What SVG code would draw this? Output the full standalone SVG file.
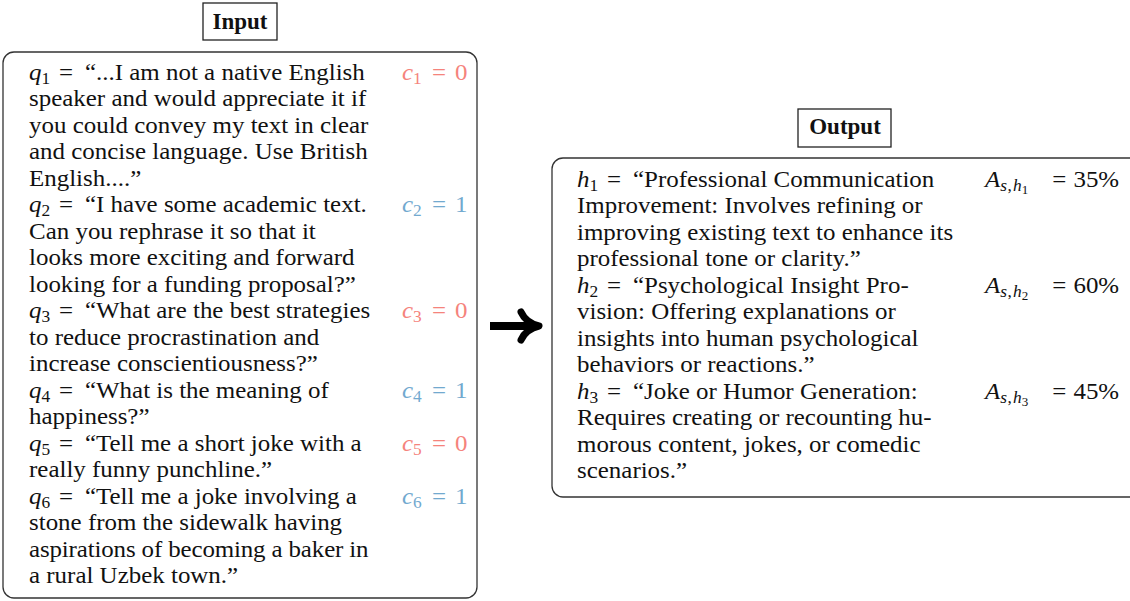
<svg xmlns="http://www.w3.org/2000/svg" width="1130" height="601" viewBox="0 0 1130 601">
<style>
text{font-family:"Liberation Serif","DejaVu Serif",serif;font-size:23px;fill:#111}
.title{font-weight:bold;text-anchor:middle}
.box{fill:#fff;stroke:#333;stroke-width:1.3}
.tbox{fill:#fff;stroke:#222;stroke-width:1.3}
.it{font-style:italic}
.sub{font-size:16px}
.ssub{font-size:12px}
.red{fill:#f5837c}
.blue{fill:#72a9cf}
</style>
<rect width="1130" height="601" fill="#fff"/>
<g id="input-title">
<rect class="tbox" x="203" y="3" width="74" height="37"/>
<text class="title" x="240" y="29">Input</text>
</g>
<g id="input">
<rect class="box" x="3" y="52" width="474" height="546" rx="11"/>
<g transform="matrix(1.085 0 0 1 29 0)">
<text x="0" y="80"><tspan class="it">q</tspan><tspan class="sub" dy="4">1</tspan><tspan x="27.6" dy="-4">=</tspan><tspan x="51.6">“...I am not a native English</tspan></text>
<text x="0" y="106.5">speaker and would appreciate it if</text>
<text x="0" y="133">you could convey my text in clear</text>
<text x="0" y="159.5">and concise language. Use British</text>
<text x="0" y="186">English....”</text>
<text x="0" y="212.5"><tspan class="it">q</tspan><tspan class="sub" dy="4">2</tspan><tspan x="27.6" dy="-4">=</tspan><tspan x="51.6">“I have some academic text.</tspan></text>
<text x="0" y="239">Can you rephrase it so that it</text>
<text x="0" y="265.5">looks more exciting and forward</text>
<text x="0" y="292">looking for a funding proposal?”</text>
<text x="0" y="318.5"><tspan class="it">q</tspan><tspan class="sub" dy="4">3</tspan><tspan x="27.6" dy="-4">=</tspan><tspan x="51.6">“What are the best strategies</tspan></text>
<text x="0" y="345">to reduce procrastination and</text>
<text x="0" y="371.5">increase conscientiousness?”</text>
<text x="0" y="398"><tspan class="it">q</tspan><tspan class="sub" dy="4">4</tspan><tspan x="27.6" dy="-4">=</tspan><tspan x="51.6">“What is the meaning of</tspan></text>
<text x="0" y="424.5">happiness?”</text>
<text x="0" y="451"><tspan class="it">q</tspan><tspan class="sub" dy="4">5</tspan><tspan x="27.6" dy="-4">=</tspan><tspan x="51.6">“Tell me a short joke with a</tspan></text>
<text x="0" y="477.5">really funny punchline.”</text>
<text x="0" y="504"><tspan class="it">q</tspan><tspan class="sub" dy="4">6</tspan><tspan x="27.6" dy="-4">=</tspan><tspan x="51.6">“Tell me a joke involving a</tspan></text>
<text x="0" y="530.5">stone from the sidewalk having</text>
<text x="0" y="557" textLength="313" lengthAdjust="spacing">aspirations of becoming a baker in</text>
<text x="0" y="583.5">a rural Uzbek town.”</text>
</g>
<g transform="matrix(1.085 0 0 1 402 0)">
<text class="red" x="0" y="80"><tspan class="it">c</tspan><tspan class="sub" dy="4">1</tspan><tspan x="27.6" dy="-4">=</tspan><tspan x="48.8">0</tspan></text>
<text class="blue" x="0" y="212.5"><tspan class="it">c</tspan><tspan class="sub" dy="4">2</tspan><tspan x="27.6" dy="-4">=</tspan><tspan x="48.8">1</tspan></text>
<text class="red" x="0" y="318.5"><tspan class="it">c</tspan><tspan class="sub" dy="4">3</tspan><tspan x="27.6" dy="-4">=</tspan><tspan x="48.8">0</tspan></text>
<text class="blue" x="0" y="398"><tspan class="it">c</tspan><tspan class="sub" dy="4">4</tspan><tspan x="27.6" dy="-4">=</tspan><tspan x="48.8">1</tspan></text>
<text class="red" x="0" y="451"><tspan class="it">c</tspan><tspan class="sub" dy="4">5</tspan><tspan x="27.6" dy="-4">=</tspan><tspan x="48.8">0</tspan></text>
<text class="blue" x="0" y="504"><tspan class="it">c</tspan><tspan class="sub" dy="4">6</tspan><tspan x="27.6" dy="-4">=</tspan><tspan x="48.8">1</tspan></text>
</g>
</g>
<g id="connectors">
<line x1="490" y1="326" x2="532" y2="326" stroke="#000" stroke-width="8"/>
<path d="M521,312 Q526,323 539,326 Q526,329 521,340" fill="none" stroke="#000" stroke-width="7" stroke-linecap="round" stroke-linejoin="round"/>
</g>
<g id="output-title">
<rect class="tbox" x="798" y="109" width="93" height="38"/>
<text class="title" x="845" y="134">Output</text>
</g>
<g id="output">
<rect class="box" x="552" y="158" width="592" height="339" rx="11"/>
<g transform="matrix(1.085 0 0 1 577 0)">
<text x="0" y="187"><tspan class="it">h</tspan><tspan class="sub" dy="4">1</tspan><tspan x="27.6" dy="-4">=</tspan><tspan x="51.6">“Professional Communication</tspan></text>
<text x="0" y="213.5">Improvement: Involves refining or</text>
<text x="0" y="240">improving existing text to enhance its</text>
<text x="0" y="266.5">professional tone or clarity.”</text>
<text x="0" y="293"><tspan class="it">h</tspan><tspan class="sub" dy="4">2</tspan><tspan x="27.6" dy="-4">=</tspan><tspan x="51.6">“Psychological Insight Pro-</tspan></text>
<text x="0" y="319.5">vision: Offering explanations or</text>
<text x="0" y="346">insights into human psychological</text>
<text x="0" y="372.5">behaviors or reactions.”</text>
<text x="0" y="399"><tspan class="it">h</tspan><tspan class="sub" dy="4">3</tspan><tspan x="27.6" dy="-4">=</tspan><tspan x="51.6">“Joke or Humor Generation:</tspan></text>
<text x="0" y="425.5">Requires creating or recounting hu-</text>
<text x="0" y="452">morous content, jokes, or comedic</text>
<text x="0" y="478.5">scenarios.”</text>
</g>
<g transform="matrix(1.085 0 0 1 985 0)">
<text x="0" y="187"><tspan class="it">A</tspan><tspan class="sub it" dy="4">s</tspan><tspan class="sub" dx="0.5">,</tspan><tspan class="sub it" dx="1">h</tspan><tspan class="ssub" dy="3">1</tspan><tspan x="62" dy="-7">=</tspan><tspan x="81.5">35%</tspan></text>
<text x="0" y="293"><tspan class="it">A</tspan><tspan class="sub it" dy="4">s</tspan><tspan class="sub" dx="0.5">,</tspan><tspan class="sub it" dx="1">h</tspan><tspan class="ssub" dy="3">2</tspan><tspan x="62" dy="-7">=</tspan><tspan x="81.5">60%</tspan></text>
<text x="0" y="399"><tspan class="it">A</tspan><tspan class="sub it" dy="4">s</tspan><tspan class="sub" dx="0.5">,</tspan><tspan class="sub it" dx="1">h</tspan><tspan class="ssub" dy="3">3</tspan><tspan x="62" dy="-7">=</tspan><tspan x="81.5">45%</tspan></text>
</g>
</g>
</svg>
